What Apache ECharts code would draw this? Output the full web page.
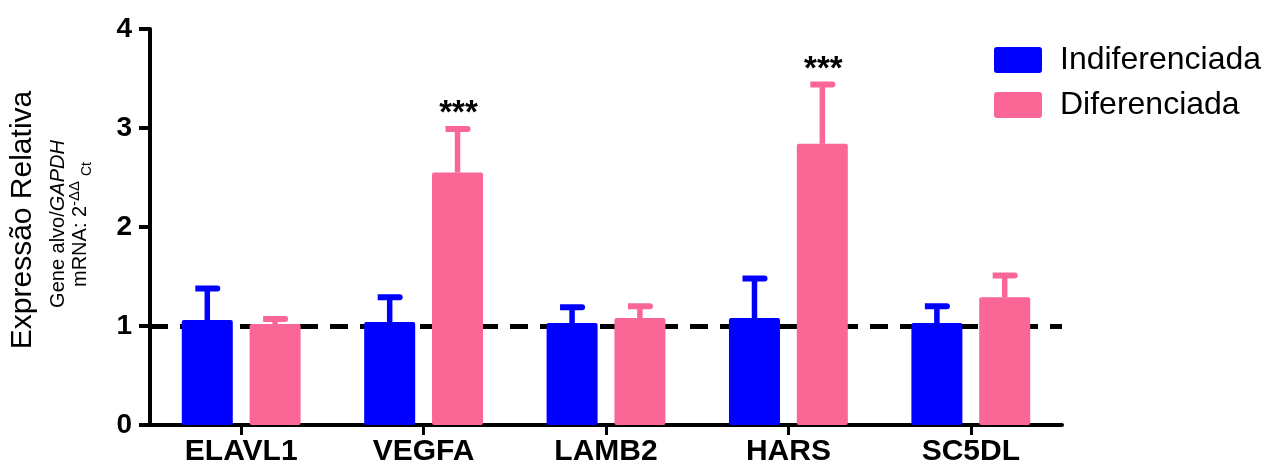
<!DOCTYPE html>
<html>
<head>
<meta charset="utf-8">
<script src="https://cdn.jsdelivr.net/npm/echarts@6/dist/echarts.min.js"></script>
<style>
  html, body { margin: 0; padding: 0; background: #fff; }
  #chart { width: 1270px; height: 467px; }
</style>
</head>
<body>
<div id="chart"></div>
<script>
// ---- data ----
const categories = ['ELAVL1', 'VEGFA', 'LAMB2', 'HARS', 'SC5DL'];
const seriesNames = ['Indiferenciada', 'Diferenciada'];
const indifMean = [1.06, 1.04, 1.03, 1.08, 1.03];
const indifUpper = [1.38, 1.29, 1.19, 1.48, 1.20];
const difMean = [1.02, 2.55, 1.08, 2.84, 1.29];
const difUpper = [1.07, 2.99, 1.20, 3.44, 1.51];
const difSig = ['', '***', '', '***', ''];
const indifSig = ['', '', '', '', ''];
const yMin = 0, yMax = 4, yInterval = 1;
const referenceLevel = 1;

// ---- style ----
const FONT = 'Liberation Sans, Arial, Helvetica, sans-serif';
const BLUE = '#0000FF';
const PINK = '#FA6796';
const BAR_W = 51;
const BAR_GAP = 0.33;
const OFFSET = (BAR_W + BAR_W * BAR_GAP) / 2;
const LEGEND_ICON = 'path://M3,0H45A3,3,0,0,1,48,3V23A3,3,0,0,1,45,26H3A3,3,0,0,1,0,23V3A3,3,0,0,1,3,0Z';

function errRender(sign, color, sigs) {
  return function (params, api) {
    const i = api.value(0);
    const base = api.coord([i, api.value(1)]);
    const top = api.coord([i, api.value(2)]);
    const x = base[0] + sign * OFFSET;
    const children = [
      { type: 'rect', shape: { x: x - 2.75, y: top[1], width: 5.5, height: base[1] - top[1] }, style: { fill: color } },
      { type: 'rect', shape: { x: x - 12, y: top[1] - 3, width: 25, height: 6, r: [0, 3, 3, 0] }, style: { fill: color } }
    ];
    const s = sigs[params.dataIndex];
    if (s) {
      children.push({
        type: 'text',
        style: {
          text: s, x: x + 1, y: top[1] - 15,
          align: 'center', verticalAlign: 'middle',
          textAlign: 'center', textVerticalAlign: 'middle',
          fontSize: 33, fontFamily: FONT, fontWeight: 'bold', fill: '#000'
        }
      });
    }
    return { type: 'group', children: children };
  };
}

const chart = echarts.init(document.getElementById('chart'), null, { renderer: 'canvas' });
chart.setOption({
  animation: false,
  backgroundColor: '#fff',
  grid: { left: 150, right: 208, top: 29, bottom: 42, containLabel: false },
  legend: {
    orient: 'vertical',
    left: 989, top: 39,
    itemWidth: 48, itemHeight: 26, itemGap: 13,
    icon: LEGEND_ICON,
    data: seriesNames,
    textStyle: { fontSize: 32, fontFamily: FONT, color: '#000', lineHeight: 32, padding: [0, 0, 0, 13] }
  },
  xAxis: {
    type: 'category',
    data: categories,
    axisLine: { lineStyle: { color: '#000', width: 4 } },
    axisTick: { show: true, alignWithLabel: true, length: 10, lineStyle: { color: '#000', width: 3 } },
    axisLabel: { fontSize: 30, fontWeight: 'bold', fontFamily: FONT, color: '#000', margin: 12 },
    splitLine: { show: false }
  },
  yAxis: {
    type: 'value',
    min: yMin, max: yMax, interval: yInterval,
    axisLine: { show: true, lineStyle: { color: '#000', width: 4 } },
    axisTick: { show: true, length: 11, lineStyle: { color: '#000', width: 4 } },
    axisLabel: { fontSize: 28, fontWeight: 'bold', fontFamily: FONT, color: '#000', margin: 18 },
    splitLine: { show: false }
  },
  graphic: [{
    type: 'group', x: 0, y: 222, rotation: Math.PI / 2,
    children: [
      { type: 'text', x: 2, y: 23, style: { text: 'Expressão Relativa', fontSize: 30, fontFamily: FONT, fill: '#000', align: 'center', verticalAlign: 'middle' } },
      { type: 'text', x: -2, y: 58, style: {
          text: '{a|Gene alvo/}{b|GAPDH}', align: 'center', verticalAlign: 'middle',
          rich: {
            a: { fontSize: 20, fontFamily: FONT, fill: '#000' },
            b: { fontSize: 20, fontFamily: FONT, fontStyle: 'italic', fill: '#000' }
          } } },
      { type: 'text', x: -65, y: 80.5, style: { text: 'mRNA: 2', fontSize: 20, fontFamily: FONT, fill: '#000', align: 'left', verticalAlign: 'middle' } },
      { type: 'text', x: 16, y: 75, style: { text: '-ΔΔ', fontSize: 15, fontFamily: FONT, fill: '#000', align: 'left', verticalAlign: 'middle' } },
      { type: 'text', x: 46, y: 87, style: { text: 'Ct', fontSize: 14, fontFamily: FONT, fill: '#000', align: 'left', verticalAlign: 'middle' } }
    ]
  }],
  series: [
    {
      type: 'line', data: [], silent: true, z: 1,
      markLine: {
        z: 1, silent: true, symbol: ['none', 'none'], label: { show: false },
        lineStyle: { color: '#000', width: 5, type: [18, 12] },
        emphasis: { disabled: true },
        data: [{ yAxis: referenceLevel }]
      }
    },
    {
      name: seriesNames[0], type: 'bar', data: indifMean, z: 2,
      barWidth: BAR_W, barGap: (BAR_GAP * 100) + '%',
      itemStyle: { color: BLUE, borderRadius: 2 }
    },
    {
      name: seriesNames[1], type: 'bar', data: difMean, z: 2,
      barWidth: BAR_W, barGap: (BAR_GAP * 100) + '%',
      itemStyle: { color: PINK, borderRadius: 2 }
    },
    {
      type: 'custom', z: 3, silent: true,
      renderItem: errRender(-1, BLUE, indifSig),
      data: categories.map((c, i) => [i, indifMean[i], indifUpper[i]])
    },
    {
      type: 'custom', z: 3, silent: true,
      renderItem: errRender(1, PINK, difSig),
      data: categories.map((c, i) => [i, difMean[i], difUpper[i]])
    }
  ]
});
</script>
</body>
</html>
